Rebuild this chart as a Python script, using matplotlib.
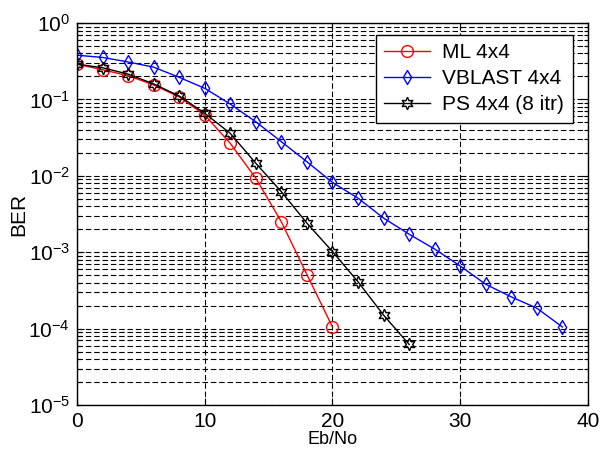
import numpy as np
import matplotlib
matplotlib.use("Agg")
import matplotlib.pyplot as plt
from matplotlib.path import Path
from matplotlib.ticker import LogLocator, NullFormatter, FixedLocator

plt.rcParams['font.family'] = ['Liberation Sans', 'DejaVu Sans']
plt.rcParams['mathtext.fontset'] = 'custom'
plt.rcParams['mathtext.rm'] = 'Liberation Sans'
plt.rcParams['mathtext.it'] = 'Liberation Sans'
plt.rcParams['mathtext.default'] = 'regular'

# Eb/No values (dB) and BER
ebno_ml = [0, 2, 4, 6, 8, 10, 12, 14, 16, 18, 20]
ber_ml = [0.29, 0.245, 0.205, 0.155, 0.108, 0.0625, 0.0266, 0.0093,
          0.0025, 5.1e-4, 1.05e-4]

ebno_vb = [0, 2, 4, 6, 8, 10, 12, 14, 16, 18, 20, 22, 24, 26, 28, 30,
           32, 34, 36, 38]
ber_vb = [0.38, 0.355, 0.31, 0.265, 0.195, 0.14, 0.087, 0.051, 0.028,
          0.0153, 0.0082, 0.0051, 0.0028, 0.00172, 0.0011, 6.6e-4,
          3.8e-4, 2.6e-4, 1.85e-4, 1.05e-4]

ebno_ps = [0, 2, 4, 6, 8, 10, 12, 14, 16, 18, 20, 22, 24, 26]
ber_ps = [0.29, 0.26, 0.215, 0.16, 0.111, 0.066, 0.036, 0.0146, 0.0062,
          0.0024, 1.02e-3, 4.1e-4, 1.5e-4, 6.2e-5]

# narrow MATLAB-like diamond
thin_diamond = Path([(0, 1), (0.6, 0), (0, -1), (-0.6, 0), (0, 1)],
                    [Path.MOVETO, Path.LINETO, Path.LINETO, Path.LINETO,
                     Path.CLOSEPOLY])

fig = plt.figure(figsize=(6.13, 4.53), dpi=100)
ax = fig.add_axes([0.1256, 0.106, 0.8336, 0.843])

ax.semilogy(ebno_ml, ber_ml, color='red', lw=1, marker='o', ms=8.5,
            mfc='none', mec='red', label='ML 4x4')
ax.semilogy(ebno_vb, ber_vb, color='blue', lw=1, marker=thin_diamond, ms=10,
            mfc='none', mec='blue', label='VBLAST 4x4')
ax.semilogy(ebno_ps, ber_ps, color='black', lw=1, marker=(6, 1, 0), ms=9,
            mfc='none', mec='black', label='PS 4x4 (8 itr)')

ax.set_xlim(0, 40)
ax.set_ylim(1e-5, 1)
ax.xaxis.set_major_locator(FixedLocator([0, 10, 20, 30, 40]))
ax.yaxis.set_major_locator(LogLocator(base=10, numticks=10))
ax.yaxis.set_minor_locator(LogLocator(base=10, subs=np.arange(2, 10), numticks=20))
ax.yaxis.set_minor_formatter(NullFormatter())

ax.grid(True, which='major', color='black', ls=(0, (5, 2.5)), lw=0.8)
ax.grid(True, which='minor', axis='y', color='black', ls=(0, (5, 2.5)), lw=0.8)

ax.tick_params(which='both', direction='in', top=True, right=True,
               labelsize=15, width=0.8)
ax.tick_params(which='major', length=5, pad=5)
ax.tick_params(which='minor', length=3)
for s in ax.spines.values():
    s.set_linewidth(1)

ax.set_xlabel('Eb/No', fontsize=13, labelpad=0)
ax.set_ylabel('BER', fontsize=15, labelpad=0)

leg = ax.legend(loc='upper right', fontsize=15, fancybox=False,
                edgecolor='black', framealpha=1, handlelength=2.2,
                bbox_to_anchor=(0.97, 0.97), borderaxespad=0,
                labelspacing=0.35, borderpad=0.4, handletextpad=0.6)
leg.get_frame().set_linewidth(1)

fig.savefig('out.png', dpi=100, facecolor='white')
